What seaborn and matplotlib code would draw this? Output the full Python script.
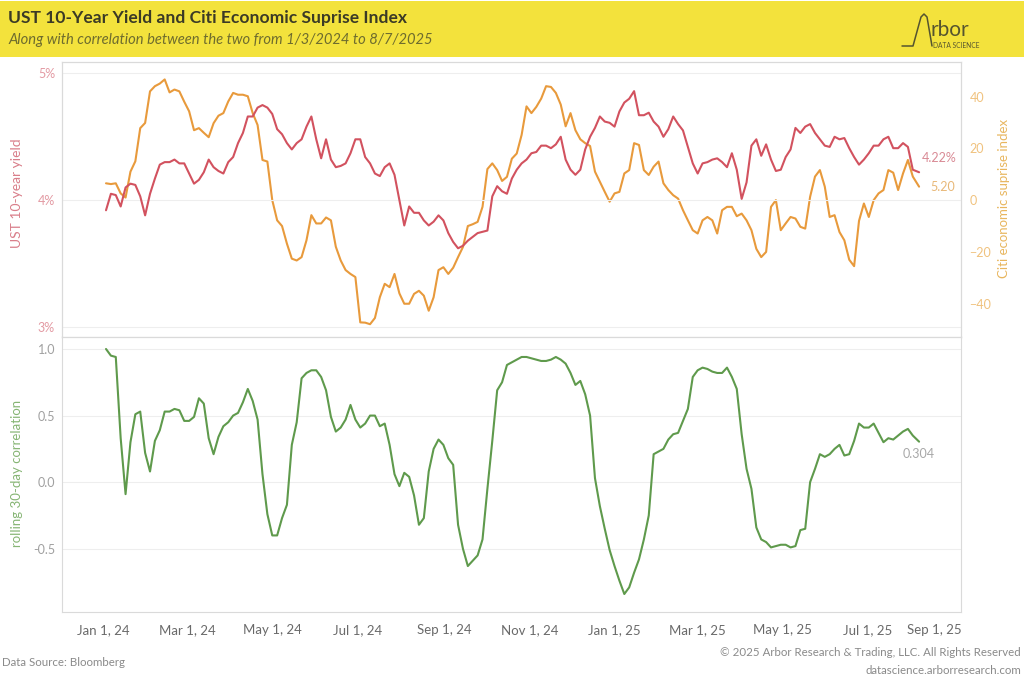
import pandas as pd
import matplotlib.pyplot as plt
import matplotlib.dates as mdates
from matplotlib.lines import Line2D
from matplotlib.patches import Rectangle
import seaborn as sns


# readings every 3.5 days from 1/3/2024, last one on 8/7/2025
dates = pd.date_range('2024-01-03', periods=166, freq='84h').append(pd.DatetimeIndex(['2025-08-07']))

ust_yield = [
    3.92, 4.05, 4.04, 3.95, 4.10, 4.13, 4.12, 4.03, 3.88, 4.05,
    4.17, 4.28, 4.30, 4.30, 4.32, 4.29, 4.29, 4.21, 4.13, 4.16,
    4.22, 4.32, 4.26, 4.23, 4.21, 4.30, 4.34, 4.45, 4.53, 4.66,
    4.66, 4.73, 4.75, 4.73, 4.68, 4.56, 4.52, 4.45, 4.40, 4.45,
    4.48, 4.58, 4.66, 4.48, 4.33, 4.48, 4.32, 4.26, 4.27, 4.29,
    4.37, 4.48, 4.48, 4.34, 4.29, 4.21, 4.19, 4.26, 4.29, 4.20,
    4.00, 3.80, 3.95, 3.90, 3.90, 3.84, 3.80, 3.83, 3.88, 3.84,
    3.74, 3.67, 3.62, 3.64, 3.68, 3.71, 3.74, 3.75, 3.76, 4.03,
    4.11, 4.07, 4.05, 4.17, 4.24, 4.29, 4.32, 4.37, 4.38, 4.43,
    4.43, 4.41, 4.44, 4.50, 4.32, 4.24, 4.20, 4.24, 4.40, 4.50,
    4.57, 4.66, 4.62, 4.61, 4.58, 4.70, 4.77, 4.80, 4.86, 4.67,
    4.67, 4.69, 4.62, 4.58, 4.50, 4.56, 4.66, 4.60, 4.55, 4.42,
    4.29, 4.21, 4.29, 4.30, 4.32, 4.33, 4.30, 4.26, 4.37, 4.24,
    4.01, 4.14, 4.43, 4.48, 4.35, 4.44, 4.32, 4.23, 4.24, 4.34,
    4.40, 4.57, 4.53, 4.58, 4.60, 4.53, 4.48, 4.43, 4.42, 4.50,
    4.48, 4.49, 4.41, 4.34, 4.28, 4.32, 4.37, 4.43, 4.43, 4.48,
    4.50, 4.41, 4.41, 4.45, 4.42, 4.24, 4.22,
]

citi_index = [
    6.5, 6.2, 6.5, 2.6, 1.0, 11.0, 15.0, 27.8, 29.8, 42.0,
    44.0, 45.0, 46.6, 41.6, 42.7, 42.0, 38.0, 34.3, 27.0, 27.8,
    26.0, 24.3, 29.7, 32.6, 33.6, 38.1, 41.4, 40.7, 40.7, 40.1,
    33.6, 29.0, 15.5, 14.9, 0.0, -7.8, -10.0, -16.8, -22.6, -23.3,
    -22.0, -15.5, -5.8, -9.0, -9.0, -6.7, -7.8, -18.0, -23.3, -27.0,
    -28.5, -29.7, -47.2, -47.3, -47.9, -45.5, -37.5, -32.3, -33.6, -28.5,
    -36.0, -40.0, -40.0, -36.2, -35.0, -36.9, -42.7, -37.5, -27.0, -25.9,
    -28.5, -26.1, -22.0, -18.1, -10.0, -9.3, -8.4, -2.6, 12.0, 14.2,
    11.6, 7.4, 9.0, 16.0, 18.0, 25.2, 36.2, 33.6, 36.0, 39.2,
    44.0, 43.7, 41.4, 36.9, 28.5, 33.6, 27.0, 23.5, 22.0, 20.9,
    11.0, 7.1, 3.2, -0.6, 2.6, 3.2, 10.3, 11.6, 22.0, 21.3,
    11.6, 9.7, 12.9, 14.9, 6.5, 3.9, 1.9, 0.6, -3.9, -7.8,
    -11.6, -12.9, -7.8, -6.5, -7.8, -12.9, -3.9, -2.6, -2.6, -6.2,
    -5.2, -7.8, -11.6, -18.8, -22.0, -20.0, -2.6, 0.0, -11.6, -9.0,
    -6.5, -7.1, -10.3, -11.0, 1.3, 9.1, 11.6, 5.2, -6.5, -5.8,
    -12.3, -15.5, -23.0, -25.5, -8.0, -1.3, -6.5, 0.0, 2.6, 3.9,
    11.6, 10.6, 3.9, 10.3, 15.5, 9.1, 5.2,
]

rolling_corr = [
    1.00, 0.95, 0.94, 0.33, -0.09, 0.30, 0.51, 0.53, 0.22, 0.08,
    0.31, 0.39, 0.53, 0.53, 0.55, 0.54, 0.46, 0.46, 0.49, 0.63,
    0.59, 0.33, 0.21, 0.34, 0.42, 0.45, 0.50, 0.52, 0.60, 0.70,
    0.61, 0.47, 0.06, -0.24, -0.40, -0.40, -0.27, -0.17, 0.28, 0.45,
    0.78, 0.82, 0.84, 0.84, 0.79, 0.69, 0.49, 0.38, 0.41, 0.47,
    0.58, 0.47, 0.41, 0.44, 0.50, 0.50, 0.42, 0.44, 0.28, 0.06,
    -0.03, 0.07, 0.04, -0.10, -0.32, -0.27, 0.08, 0.25, 0.32, 0.28,
    0.18, 0.13, -0.32, -0.50, -0.63, -0.59, -0.55, -0.43, -0.05, 0.31,
    0.69, 0.75, 0.88, 0.90, 0.92, 0.94, 0.94, 0.93, 0.92, 0.91,
    0.91, 0.92, 0.94, 0.92, 0.89, 0.82, 0.73, 0.76, 0.66, 0.50,
    0.03, -0.18, -0.35, -0.51, -0.63, -0.74, -0.84, -0.79, -0.68, -0.58,
    -0.43, -0.25, 0.21, 0.23, 0.25, 0.32, 0.36, 0.37, 0.46, 0.55,
    0.79, 0.84, 0.86, 0.85, 0.83, 0.82, 0.82, 0.86, 0.79, 0.70,
    0.36, 0.10, -0.05, -0.34, -0.43, -0.45, -0.49, -0.48, -0.47, -0.47,
    -0.49, -0.48, -0.36, -0.35, 0.00, 0.10, 0.21, 0.19, 0.21, 0.25,
    0.28, 0.20, 0.21, 0.31, 0.44, 0.41, 0.41, 0.44, 0.37, 0.30,
    0.33, 0.32, 0.35, 0.38, 0.40, 0.35, 0.304,
]

tick_dates = pd.date_range('2024-01-01', '2025-09-01', freq='2MS')
tick_labels = [f'{d:%b} {d.day}, {d:%y}' for d in tick_dates]

df = pd.DataFrame({'date': dates, 'yield': ust_yield, 'citi': citi_index, 'corr': rolling_corr})

RED = '#D2525F'
ORANGE = '#E89A3C'
GREEN = '#5F9A4C'
GRID = '#EEEEEE'
BORDER = '#DADADA'

sns.set_theme(style='white')
plt.rcParams['font.family'] = ['Lato', 'DejaVu Sans']

fig = plt.figure(figsize=(10.24, 6.88), dpi=100)
W, H = 1024, 688


def fx(px):
    return px / W


def fy(py):
    return 1 - py / H


# yellow header band
fig.patches.append(Rectangle((0, fy(57)), 1, 56 / H, transform=fig.transFigure,
                             facecolor='#F3E23C', edgecolor='none', zorder=0))
fig.text(fx(8), fy(18), 'UST 10-Year Yield and Citi Economic Suprise Index',
         fontsize=12.6, fontweight='bold', color='#3B3A26', va='center')
fig.text(fx(8), fy(40), 'Along with correlation between the two from 1/3/2024 to 8/7/2025',
         fontsize=10.6, fontstyle='italic', color='#6E6C2E', va='center')

# logo
fig.add_artist(Line2D([fx(902), fx(913), fx(921), fx(924), fx(927), fx(932)],
                      [fy(46), fy(46), fy(17), fy(14), fy(17), fy(46)],
                      transform=fig.transFigure, color='#55542F', lw=1.1))
fig.text(fx(931), fy(30), 'rbor', fontsize=15, color='#55542F', va='center')
fig.text(fx(933), fy(45), 'DATA SCIENCE', fontsize=4.8, color='#55542F', va='center')

x_left, x_right = pd.Timestamp('2023-12-02 12:00'), pd.Timestamp('2025-09-06')

ax1 = fig.add_axes([fx(62), fy(337), fx(961) - fx(62), 275 / H])
ax1b = ax1.twinx()
ax2 = fig.add_axes([fx(62), fy(612), fx(961) - fx(62), 275 / H])

sns.lineplot(data=df, x='date', y='yield', ax=ax1, color=RED, lw=1.5, zorder=3)
sns.lineplot(data=df, x='date', y='citi', ax=ax1b, color=ORANGE, lw=1.5, zorder=2)
sns.lineplot(data=df, x='date', y='corr', ax=ax2, color=GREEN, lw=1.5)

ax1.set_zorder(ax1b.get_zorder() + 1)
ax1.patch.set_visible(False)

ax1.set_ylim(2.92, 5.09)
ax1b.set_ylim((2.92 - 4) * 48.93, (5.09 - 4) * 48.93)
ax2.set_ylim(-0.975, 1.09)

ax1.set_yticks([3, 4, 5])
ax1.set_yticklabels(['3%', '4%', '5%'])
ax1b.set_yticks([-40, -20, 0, 20, 40])
ax2.set_yticks([-0.5, 0.0, 0.5, 1.0])
ax2.set_yticklabels(['-0.5', '0.0', '0.5', '1.0'])

for ax in (ax1, ax1b, ax2):
    ax.set_xlim(x_left, x_right)
    ax.set_xlabel('')
    for s in ax.spines.values():
        s.set_color(BORDER)
        s.set_linewidth(0.8)

ax1.set_xticks([])
ax1b.set_xticks([])
# the last label is pulled left so it stays inside the pane
ax2.set_xticks(tick_dates)
ax2.set_xticklabels(tick_labels[:-1] + [''])
ax2.annotate(tick_labels[-1], xy=(mdates.date2num(tick_dates[-1]), 0),
             xycoords=ax2.get_xaxis_transform(),
             xytext=(-14.5, -13), textcoords='offset points', fontsize=9.5, color='#6A6A6A',
             ha='center', va='center')

ax1.grid(axis='y', color=GRID, lw=0.8)
ax2.grid(axis='y', color=GRID, lw=0.8)

ax1.tick_params(axis='y', length=0, pad=5, labelsize=9, labelcolor='#E39AA3')
ax1b.tick_params(axis='y', length=0, pad=6, labelsize=9, labelcolor='#F0C27E')
ax2.tick_params(axis='y', length=0, pad=5, labelsize=9, labelcolor='#A0A0A0')
ax2.tick_params(axis='x', length=0, pad=9, labelsize=9.5, labelcolor='#6A6A6A')

ax1.set_ylabel('')
ax1b.set_ylabel('')
ax2.set_ylabel('')
fig.text(fx(17), fy(193), 'UST 10-year yield', rotation=90, fontsize=10,
         color='#D97E8A', ha='center', va='center')
fig.text(fx(1004), fy(198), 'Citi economic suprise index', rotation=90, fontsize=9.5,
         color='#E8B65E', ha='center', va='center')
fig.text(fx(17), fy(473), 'rolling 30-day correlation', rotation=90, fontsize=9.5,
         color='#86B574', ha='center', va='center')

# end-of-series labels
ax1.annotate(f'{ust_yield[-1]:.2f}%', xy=(dates[-1], ust_yield[-1]), xytext=(2, 10),
             textcoords='offset points', fontsize=9, color='#D98A95', va='center')
ax1b.annotate(f'{citi_index[-1]:.2f}', xy=(dates[-1], citi_index[-1]), xytext=(8, 0),
              textcoords='offset points', fontsize=9, color='#E8B878', va='center')
ax2.annotate(f'{rolling_corr[-1]:.3f}', xy=(dates[-1], rolling_corr[-1]), xytext=(0, -9),
             textcoords='offset points', fontsize=9, color='#A8A8A8', ha='center', va='center')

# footer
fig.text(fx(2), fy(662), 'Data Source: Bloomberg', fontsize=8.3, color='#8A8A8A', va='center')
fig.text(fx(1021), fy(653), '\u00a9 2025 Arbor Research & Trading, LLC. All Rights Reserved',
         fontsize=8.3, color='#8A8A8A', ha='right', va='center')
fig.text(fx(1021), fy(670), 'datascience.arborresearch.com', fontsize=8.3, color='#8A8A8A',
         ha='right', va='center')

fig.savefig('out.png', dpi=100, facecolor='white')
